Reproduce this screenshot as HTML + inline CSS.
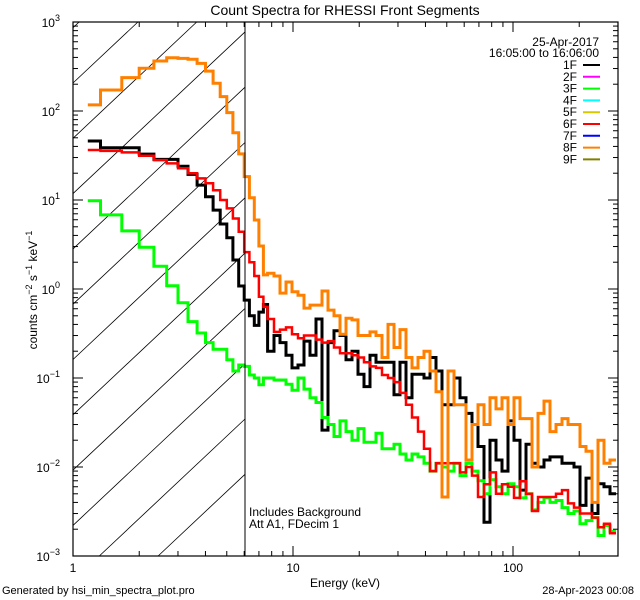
<!DOCTYPE html>
<html><head><meta charset="utf-8"><style>
html,body{margin:0;padding:0;background:#fff;width:640px;height:600px;overflow:hidden;}
svg{display:block;overflow:hidden;font-family:"Liberation Sans",sans-serif;}
</style></head><body>
<svg id="chart" width="640" height="600" viewBox="0 0 640 600" xmlns="http://www.w3.org/2000/svg">
<defs><clipPath id="plotclip"><rect x="73" y="22" width="545" height="534"/></clipPath></defs>
<rect width="640" height="600" fill="#fff"/>
<text x="345" y="15" font-size="14" text-anchor="middle">Count Spectra for RHESSI Front Segments</text>
<g id="hatch"></g>
<g id="series" clip-path="url(#plotclip)"></g>
<g id="axes"></g>
<line x1="245" y1="22" x2="245" y2="556" stroke="#000" stroke-width="1"/>
<text x="345" y="587" font-size="12" text-anchor="middle">Energy (keV)</text>
<text transform="translate(37,290) rotate(-90)" font-size="12" text-anchor="middle">counts cm<tspan font-size="9" dy="-5">−2</tspan><tspan dy="5"> s</tspan><tspan font-size="9" dy="-5">−1</tspan><tspan dy="5"> keV</tspan><tspan font-size="9" dy="-5">−1</tspan></text>
<text x="249" y="516" font-size="12">Includes Background</text>
<text x="249" y="528" font-size="12">Att A1, FDecim 1</text>
<text x="2" y="594" font-size="11">Generated by hsi_min_spectra_plot.pro</text>
<text x="634" y="594" font-size="11" text-anchor="end">28-Apr-2023 00:08</text>
<text x="599" y="46" font-size="12" text-anchor="end">25-Apr-2017</text>
<text x="599" y="57" font-size="12" text-anchor="end">16:05:00 to 16:06:00</text>
<g id="legend"></g>
</svg>
<script>
const edges=[1.167,1.333,1.667,2,2.333,2.667,3,3.333,3.667,4,4.333,4.667,5,5.333,5.667,6,6.333,6.667,7,7.333,7.667,
8.20,8.73,9.29,9.90,10.54,11.22,11.95,12.72,13.54,14.42,15.36,16.36,17.41,18.54,19.75,21.02,22.39,23.84,25.38,27.03,28.78,30.65,32.63,34.75,37.00,39.40,41.95,44.67,47.56,50.65,53.93,57.42,61.14,65.10,69.32,73.82,78.60,83.69,89.13,94.90,101.0,107.6,114.6,122.0,129.9,138.3,147.3,156.8,167.0,177.8,189.3,201.6,214.7,228.6,243.4,259.2,276.0,293.9];
const seg1F=[46,38.7,38.7,32.8,28.6,28.6,24,19.4,14.7,10.9,7.7,5.37,3.77,2.12,1.08,0.75,0.5,0.39,0.55,0.67,
0.2,0.3,0.25,0.18,0.13,0.14,0.26,0.18,0.46,0.026,0.25,0.34,0.3,0.16,0.2,0.11,0.08,0.18,0.15,0.15,0.15,0.065,0.15,0.06,0.11,0.11,0.1,0.17,0.12,
0.05,0.05,0.1,0.06,0.04,0.03,0.017,0.0024,0.02,0.012,0.009,0.033,0.02,0.0055,0.018,0.011,0.01,0.012,0.013,0.013,0.011,0.011,0.01,0.0037,0.0075,0.003,0.0065,0.006,0.005];
const seg3F=[9.8,6.8,4.5,2.95,1.8,1.09,0.7,0.43,0.32,0.25,0.21,0.21,0.16,0.12,0.14,0.135,0.108,0.1,0.084,0.1,
0.1,0.095,0.095,0.085,0.073,0.1,0.075,0.06,0.053,0.036,0.03,0.022,0.033,0.025,0.02,0.027,0.019,0.019,0.024,0.016,0.016,0.018,0.014,0.012,0.014,0.013,0.011,0.009,0.011,
0.01,0.009,0.011,0.008,0.011,0.009,0.007,0.005,0.0072,0.006,0.005,0.0065,0.006,0.0045,0.005,0.0033,0.004,0.0045,0.004,0.0042,0.0035,0.003,0.0032,0.0023,0.0025,0.0027,0.0017,0.0022,0.0019];
const seg6F=[36.5,35.6,34.3,31.4,28.1,25.8,22.7,20,17.5,15.4,12.9,10,8.05,6.2,4.4,2.6,2.0,1.4,0.82,0.63,
0.46,0.33,0.35,0.37,0.31,0.28,0.3,0.3,0.27,0.25,0.26,0.22,0.19,0.19,0.18,0.17,0.15,0.135,0.13,0.108,0.1,0.09,0.068,0.05,0.036,0.025,0.016,0.009,0.011,
0.011,0.011,0.011,0.0087,0.01,0.008,0.0046,0.0064,0.0087,0.005,0.0064,0.006,0.0045,0.0069,0.005,0.0032,0.0046,0.0046,0.0046,0.005,0.0055,0.0039,0.0035,0.003,0.003,0.0027,0.0021,0.0023,0.0018];
const seg8F=[117,172,237,302,365,397,390,381,343,281,205,145,96,57,33,18.3,10.6,5.96,3.04,1.44,
1.5,1.4,0.9,1.2,0.93,0.85,0.61,0.66,0.66,0.95,0.58,0.5,0.31,0.47,0.45,0.3,0.3,0.33,0.3,0.17,0.4,0.22,0.35,0.17,0.13,0.17,0.2,0.12,0.07,
0.0046,0.12,0.05,0.05,0.012,0.03,0.05,0.03,0.06,0.045,0.06,0.03,0.06,0.035,0.035,0.01,0.04,0.055,0.025,0.03,0.035,0.03,0.03,0.017,0.015,0.004,0.02,0.011,0.012];
const xMajor=[1,10,100];
const xMajorLabels=["1","10","100"];
const yExps=[-3,-2,-1,0,1,2,3];
const legendLabels=["1F","2F","3F","4F","5F","6F","7F","8F","9F"];
const legendColors=["#000","#ff00ff","#00ff00","#00ffff","#d8c800","#ff0000","#0000ff","#ff8000","#808000"];

const NS="http://www.w3.org/2000/svg";
const L=73,R=618,T=22,B=556;
function xs(e){return L+220*Math.log10(e);}
function ys(v){return T+89*(3-Math.log10(v));}
function mk(tag,attrs,parent){const el=document.createElementNS(NS,tag);for(const k in attrs)el.setAttribute(k,attrs[k]);parent.appendChild(el);return el;}

// hatch lines, endpoints trimmed to the hatched box
const hatch=document.getElementById('hatch');
const HX0=73,HX1=245,S=0.94;
for(let k=-4;k<=10;k++){
  const y0=83+55.3*k;
  let xa=HX0,ya=y0,xb=HX1,yb=y0-S*(HX1-HX0);
  if(ya>B){xa=HX0+(ya-B)/S;ya=B;}
  if(yb<T){xb=HX0+(y0-T)/S;yb=T;}
  if(xa>=xb||ya<T||yb>B)continue;
  const ln=mk('line',{x1:xa.toFixed(1),y1:ya.toFixed(1),x2:xb.toFixed(1),y2:yb.toFixed(1),stroke:'#000','stroke-width':0.8},hatch);
  
  
}

const sg=document.getElementById('series');
function drawSeries(vals,color,w,name){
  let d='';
  for(let i=0;i<vals.length;i++){
    const x0=xs(edges[i]).toFixed(1),x1=xs(edges[i+1]).toFixed(1),y=ys(vals[i]).toFixed(1);
    d+=(i===0?'M':'L')+x0+' '+y+'L'+x1+' '+y;
  }
  const p=mk('path',{d:d,fill:'none',stroke:color,'stroke-width':w,'stroke-linejoin':'miter'},sg);
  
  
}
drawSeries(seg1F,'#000',3,'series-1f');
drawSeries(seg3F,'#00ff00',3,'series-3f');
drawSeries(seg6F,'#ff0000',2.5,'series-6f');
drawSeries(seg8F,'#ff8000',3,'series-8f');

const ax=document.getElementById('axes');
const frame=mk('rect',{x:L,y:T,width:R-L,height:B-T,fill:'none',stroke:'#000','stroke-width':1.2},ax);


for(let dec=1;dec<=100;dec*=10){
  for(let m=1;m<=9;m++){
    const e=dec*m; if(e>300)break;
    const x=xs(e); const len=(m===1)?10:5;
    const t1=mk('line',{x1:x,y1:B,x2:x,y2:B-len,stroke:'#000'},ax);
    
    
    const t2=mk('line',{x1:x,y1:T,x2:x,y2:T+len,stroke:'#000'},ax);
    
    
  }
}
xMajor.forEach((e,i)=>{
  const t=mk('text',{x:xs(e),y:572,'font-size':12,'text-anchor':'middle'},ax);
  t.textContent=xMajorLabels[i];
  
  
});
yExps.forEach(p=>{
  for(let m=1;m<=9;m++){
    if(p===3&&m>1)break;
    const v=m*Math.pow(10,p); const y=ys(v); const len=(m===1)?10:5;
    const t1=mk('line',{x1:L,y1:y,x2:L+len,y2:y,stroke:'#000'},ax);
    
    
    const t2=mk('line',{x1:R,y1:y,x2:R-len,y2:y,stroke:'#000'},ax);
    
    
  }
  const y=ys(Math.pow(10,p));
  const t=mk('text',{x:60,y:y+5,'font-size':12,'text-anchor':'end'},ax);
  
  
  t.textContent='10';
  const s=mk('tspan',{'font-size':9,dy:-6},t);
  s.textContent=String(p).replace('-','−');
});

const lg=document.getElementById('legend');
legendLabels.forEach((lab,i)=>{
  const y=65+11.8*i;
  const t=mk('text',{x:577,y:y+4,'font-size':12,'text-anchor':'end'},lg);
  t.textContent=lab;
  
  
  const l=mk('line',{x1:583,y1:y,x2:600,y2:y,stroke:legendColors[i],'stroke-width':2},lg);
  
  
});
</script>
</body></html>
